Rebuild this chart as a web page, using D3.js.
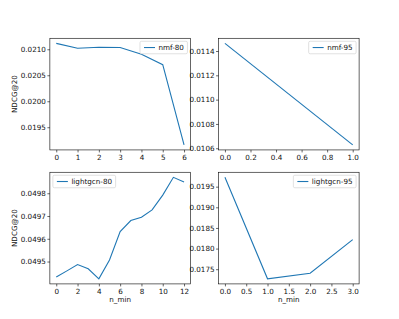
<!DOCTYPE html>
<html>
<head>
<meta charset="utf-8">
<script src="https://cdn.jsdelivr.net/npm/d3@7"></script>
<style>
  body { margin: 0; background: #fff; }
  svg { display: block; }
  text { font-family: "DejaVu Sans", sans-serif; fill: #111; }
</style>
</head>
<body>
<div id="chart"></div>
<script>
// data
var nmf80X = [0, 1, 2, 3, 4, 5, 6];
var nmf80Y = [0.021114, 0.021019, 0.021038, 0.021033, 0.020904, 0.020704, 0.019161];
var nmf95X = [0, 1];
var nmf95Y = [0.011463, 0.010628];
var lgcn80X = [0, 1, 2, 3, 4, 5, 6, 7, 8, 9, 10, 11, 12];
var lgcn80Y = [0.049432, 0.049459, 0.049487, 0.049468, 0.049424, 0.049507, 0.049632,
               0.049680, 0.049695, 0.049727, 0.049792, 0.049870, 0.049850];
var lgcn95X = [0, 1, 2, 3];
var lgcn95Y = [0.019726, 0.017267, 0.017403, 0.018217];

var nmf80XTicks = [0, 1, 2, 3, 4, 5, 6];
var nmf80YTicks = [0.0195, 0.0200, 0.0205, 0.0210];
var nmf95XTicks = [0, 0.2, 0.4, 0.6, 0.8, 1.0];
var nmf95YTicks = [0.0106, 0.0108, 0.0110, 0.0112, 0.0114];
var lgcn80XTicks = [0, 2, 4, 6, 8, 10, 12];
var lgcn80YTicks = [0.0495, 0.0496, 0.0497, 0.0498];
var lgcn95XTicks = [0, 0.5, 1.0, 1.5, 2.0, 2.5, 3.0];
var lgcn95YTicks = [0.0175, 0.0180, 0.0185, 0.0190, 0.0195];

(function() {
    var W = 399, H = 319;
    var FS = 7.2;          // font size
    var LINE = "#1f77b4";

    var svg = d3.select("#chart").append("svg")
        .attr("width", W)
        .attr("height", H);

    // subplot grid like matplotlib defaults
    var gLeft = 0.125 * W, gRight = 0.9 * W, gTop = 0.12 * H, gBottom = 0.89 * H;
    var aw = (gRight - gLeft) / 2.2, ah = (gBottom - gTop) / 2.2;

    var panels = [
        {x: nmf80X, y: nmf80Y, xt: nmf80XTicks, yt: nmf80YTicks, xf: d3.format("d"), yf: d3.format(".4f"),
         name: "nmf-80", col: 0, row: 0, legend: "right", ylabel: true, xlabel: false},
        {x: nmf95X, y: nmf95Y, xt: nmf95XTicks, yt: nmf95YTicks, xf: d3.format(".1f"), yf: d3.format(".4f"),
         name: "nmf-95", col: 1, row: 0, legend: "right", ylabel: false, xlabel: false},
        {x: lgcn80X, y: lgcn80Y, xt: lgcn80XTicks, yt: lgcn80YTicks, xf: d3.format("d"), yf: d3.format(".4f"),
         name: "lightgcn-80", col: 0, row: 1, legend: "left", ylabel: true, xlabel: true},
        {x: lgcn95X, y: lgcn95Y, xt: lgcn95XTicks, yt: lgcn95YTicks, xf: d3.format(".1f"), yf: d3.format(".4f"),
         name: "lightgcn-95", col: 1, row: 1, legend: "right", ylabel: false, xlabel: true}
    ];

    function padded(ext) {
        var m = (ext[1] - ext[0]) * 0.05;
        return [ext[0] - m, ext[1] + m];
    }

    panels.forEach(function(p) {
        var x0 = gLeft + p.col * aw * 1.2;
        var y0 = gTop + p.row * ah * 1.2;
        var g = svg.append("g").attr("transform", "translate(" + x0 + "," + y0 + ")");

        var xs = d3.scaleLinear().domain(padded(d3.extent(p.x))).range([0, aw]);
        var ys = d3.scaleLinear().domain(padded(d3.extent(p.y))).range([ah, 0]);

        var xAxis = g.append("g").attr("transform", "translate(0," + ah + ")")
            .call(d3.axisBottom(xs).tickValues(p.xt).tickFormat(p.xf).tickSize(2.5).tickPadding(2));
        var yAxis = g.append("g")
            .call(d3.axisLeft(ys).tickValues(p.yt).tickFormat(p.yf).tickSize(2.5).tickPadding(1.5));
        [xAxis, yAxis].forEach(function(a) {
            a.select(".domain").remove();
            a.selectAll("line").attr("stroke", "#000").attr("stroke-width", 0.6);
            a.selectAll("text").attr("font-size", FS).attr("font-family", "DejaVu Sans").attr("fill", "#111");
        });

        var pts = p.x.map(function(d, i) { return [d, p.y[i]]; });
        var lineFunc = d3.line()
            .x(function(d) { return xs(d[0]); })
            .y(function(d) { return ys(d[1]); });
        g.append("path")
            .attr("d", lineFunc(pts))
            .attr("fill", "none")
            .attr("stroke", LINE)
            .attr("stroke-width", 1.1);

        // frame
        g.append("rect")
            .attr("width", aw).attr("height", ah)
            .attr("fill", "none")
            .attr("stroke", "#000")
            .attr("stroke-width", 0.6);

        // legend
        var lg = g.append("g");
        var label = lg.append("text").text(p.name).attr("font-size", FS);
        var tw = label.node().getComputedTextLength();
        var bw = tw + 22, bh = 12.5;
        var bx = p.legend == "right" ? aw - 3 - bw : 3;
        var by = 3;
        lg.insert("rect", "text")
            .attr("x", bx).attr("y", by)
            .attr("width", bw).attr("height", bh)
            .attr("rx", 1.5).attr("ry", 1.5)
            .attr("fill", "#fff").attr("fill-opacity", 0.8)
            .attr("stroke", "#ccc").attr("stroke-width", 0.6);
        lg.append("line")
            .attr("x1", bx + 4).attr("x2", bx + 15)
            .attr("y1", by + bh / 2).attr("y2", by + bh / 2)
            .attr("stroke", LINE).attr("stroke-width", 1.1);
        label.attr("x", bx + 18.5).attr("y", by + bh / 2).attr("dy", "0.35em");

        if (p.ylabel) {
            g.append("text")
                .attr("transform", "translate(-33," + (ah / 2) + ") rotate(-90)")
                .attr("text-anchor", "middle")
                .attr("font-size", FS)
                .text("NDCG@20");
        }
        if (p.xlabel) {
            g.append("text")
                .attr("x", aw / 2).attr("y", ah + 18)
                .attr("text-anchor", "middle")
                .attr("font-size", FS)
                .text("n_min");
        }
    });
})();
</script>
</body>
</html>
